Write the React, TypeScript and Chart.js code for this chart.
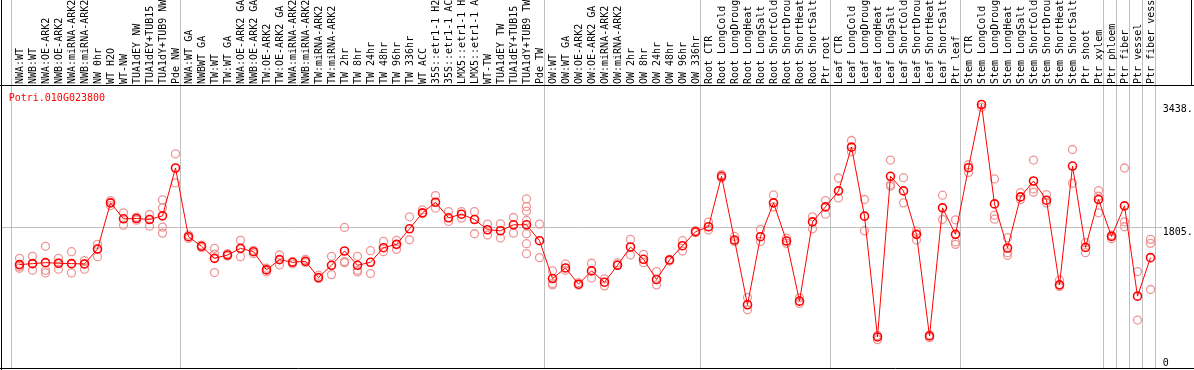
import React, { useEffect, useRef } from "react";
import { Chart, registerables } from "chart.js";

Chart.register(...registerables);

const title = "Potri.010G023800";

const categories = [
  "NWA:WT", "NWB:WT", "NWA:OE-ARK2", "NWB:OE-ARK2", "NWA:miRNA-ARK2", "NWB:miRNA-ARK2",
  "NW 0hr", "WT H2O", "WT-NW", "TUA1dEY NW", "TUA1dEY+TUB15 NW", "TUA1dY+TUB9 NW", "Pde NW",
  "NWA:WT GA", "NWBWT GA", "TW:WT", "TW:WT GA", "NWA:OE-ARK2 GA", "NWB:OE-ARK2 GA",
  "TW:OE-ARK2", "TW:OE-ARK2 GA", "NWA:miRNA-ARK2 GA", "NWB:miRNA-ARK2 GA", "TW:miRNA-ARK2",
  "TW:miRNA-ARK2 GA", "TW 2hr", "TW 8hr", "TW 24hr", "TW 48hr", "TW 96hr", "TW 336hr",
  "WT ACC", "35S::etr1-1 H2O", "35S::etr1-1 ACC", "LMX5::etr1-1 H2O", "LMX5::etr1-1 ACC",
  "WT-TW", "TUA1dEY TW", "TUA1dEY+TUB15 TW", "TUA1dY+TUB9 TW", "Pde TW",
  "OW:WT", "OW:WT GA", "OW:OE-ARK2", "OW:OE-ARK2 GA", "OW:miRNA-ARK2", "OW:miRNA-ARK2 GA",
  "OW 2hr", "OW 8hr", "OW 24hr", "OW 48hr", "OW 96hr", "OW 336hr",
  "Root CTR", "Root LongCold", "Root LongDrought", "Root LongHeat", "Root LongSalt",
  "Root ShortCold", "Root ShortDrought", "Root ShortHeat", "Root ShortSalt", "Ptr root",
  "Leaf CTR", "Leaf LongCold", "Leaf LongDrought", "Leaf LongHeat", "Leaf LongSalt",
  "Leaf ShortCold", "Leaf ShortDrought", "Leaf ShortHeat", "Leaf ShortSalt", "Ptr leaf",
  "Stem CTR", "Stem LongCold", "Stem LongDrought", "Stem LongHeat", "Stem LongSalt",
  "Stem ShortCold", "Stem ShortDrought", "Stem ShortHeat", "Stem ShortSalt", "Ptr shoot",
  "Ptr xylem", "Ptr phloem", "Ptr fiber", "Ptr vessel", "Ptr fiber vessel",
];

const means = [
  1320, 1333, 1346, 1338, 1333, 1329, 1526, 2137, 1926, 1930, 1917, 1965, 2598,
  1689, 1562, 1403, 1447, 1535, 1491, 1250, 1386, 1351, 1364, 1149, 1311, 1500,
  1311, 1351, 1544, 1588, 1794, 2005, 2145, 1939, 1987, 1917, 1781, 1768, 1847,
  1847, 1636,
  1136, 1276, 1061, 1237, 1087, 1311, 1553, 1390, 1123, 1382, 1570, 1755,
  1821, 2488, 1645, 789, 1689, 2137, 1632, 837, 1886, 2084,
  2295, 2874, 1961, 363, 2488, 2295, 1720, 376, 2071, 1720,
  2602, 3438, 2123, 1540, 2216, 2426, 2172, 1052, 2624, 1548, 2181,
  1693, 2097, 903, 1412,
];

const replicates = [
  [1403, 1294, 1272], [1430, 1333, 1245], [1562, 1245, 1210], [1403, 1338, 1259],
  [1491, 1333, 1210], [1373, 1329, 1259], [1588, 1526, 1425], [2167, 2101],
  [2005, 1842], [1948, 1908], [1983, 1829], [2176, 2071, 1816, 1737], [2786, 2400],
  [1711, 1667], [1579, 1544], [1535, 1460, 1215], [1465, 1434], [1641, 1425],
  [1509, 1465], [1272, 1223], [1447, 1316], [1360, 1329], [1390, 1347], [1180, 1136],
  [1430, 1188], [1812, 1360, 1346], [1430, 1245, 1223], [1504, 1202], [1627, 1491],
  [1641, 1522], [1952, 1649], [2044, 1996], [2233, 2066], [2022, 1891], [2022, 1935],
  [2022, 1728], [1856, 1711], [1860, 1671], [1943, 1737],
  [2189, 2088, 2027, 1904, 1728, 1597, 1465], [1856, 1412],
  [1237, 1070, 1052], [1329, 1245], [1083, 1048], [1338, 1144], [1131, 1039],
  [1343, 1316], [1654, 1447], [1456, 1346], [1228, 1052], [1390, 1368], [1636, 1500],
  [1768, 1742],
  [1882, 1777], [2510, 2466], [1693, 1623], [885, 723], [1785, 1627], [2242, 2084],
  [1671, 1601], [881, 806], [1952, 1794], [2167, 1987],
  [2466, 2202], [2962, 2813], [2181, 1768], [381, 328], [2703, 2378, 2356],
  [2470, 2137], [1763, 1645], [389, 354], [2238, 1917], [1913, 1619, 1588],
  [2641, 2540], [3519, 3401], [2453, 1974, 1921], [1676, 1478, 1443], [2273, 2181],
  [2703, 2321, 2277], [2246, 2137], [1114, 1030], [2843, 2396], [1610, 1478],
  [2299, 2224, 2005],
  [1711, 1662], [2598, 1886, 1821], [1228, 587], [1654, 1601, 991],
];

const groupBoundaries = [0, 13, 41, 53, 63, 73, 84, 85, 86, 87, 88];
const yTickValues = [0, 1805, 3438];
const yTickLabels = ["0", "1805.", "3438."];
const referenceLineValue = 1805;

const FONT = '10px "DejaVu Sans Mono", "Liberation Mono", monospace';

const framePlugin = {
  id: "efpFrame",
  beforeDatasetsDraw(chart: any) {
    const ctx = chart.ctx as CanvasRenderingContext2D;
    const xs = chart.scales.x;
    const ys = chart.scales.y;
    const W = chart.width;
    ctx.save();
    ctx.lineWidth = 1;
    ctx.strokeStyle = "#c0c0c0";
    for (const k of groupBoundaries) {
      const px = Math.floor(xs.getPixelForValue(k - 0.62)) + 0.5;
      ctx.beginPath();
      ctx.moveTo(px, 0);
      ctx.lineTo(px, 369);
      ctx.stroke();
    }
    const hy = Math.floor(ys.getPixelForValue(referenceLineValue)) + 0.5;
    ctx.beginPath();
    ctx.moveTo(1, hy);
    ctx.lineTo(1162, hy);
    ctx.stroke();

    ctx.strokeStyle = "#000";
    ctx.beginPath();
    ctx.moveTo(1.5, 0);
    ctx.lineTo(1.5, 370);
    ctx.moveTo(0, 85.5);
    ctx.lineTo(W, 85.5);
    ctx.moveTo(0, 368.5);
    ctx.lineTo(W, 368.5);
    ctx.moveTo(1191.5, 0);
    ctx.lineTo(1191.5, 86);
    ctx.stroke();

    ctx.font = FONT;
    ctx.fillStyle = "#000";
    ctx.textAlign = "left";
    ctx.textBaseline = "alphabetic";
    categories.forEach((c, i) => {
      const px = xs.getPixelForValue(i);
      ctx.save();
      ctx.translate(px + 3.8, 84);
      ctx.rotate(-Math.PI / 2);
      ctx.fillText(c, 0, 0);
      ctx.restore();
    });

    yTickValues.forEach((v, j) => {
      const py = ys.getPixelForValue(v);
      ctx.fillText(yTickLabels[j], 1162.7, Math.min(py + 7, 366));
    });

    ctx.fillStyle = "#ff0000";
    ctx.fillText(title, 8.7, 101);
    ctx.restore();
  },
};

export default function App() {
  const ref = useRef<HTMLCanvasElement | null>(null);

  useEffect(() => {
    if (!ref.current) return;
    const meanPoints = means.map((v, i) => ({ x: i, y: v }));
    const repPoints: { x: number; y: number }[] = [];
    replicates.forEach((arr, i) => arr.forEach((v) => repPoints.push({ x: i, y: v })));

    const chart = new Chart(ref.current, {
      type: "scatter",
      data: {
        datasets: [
          {
            label: "mean",
            data: meanPoints,
            showLine: true,
            borderColor: "#ff0000",
            borderWidth: 1,
            pointRadius: 4,
            pointHoverRadius: 4,
            pointBorderWidth: 1.6,
            pointBorderColor: "#ff0000",
            pointBackgroundColor: "rgba(0,0,0,0)",
            clip: false,
          } as any,
          {
            label: "replicates",
            data: repPoints,
            showLine: false,
            pointRadius: 4,
            pointHoverRadius: 4,
            pointBorderWidth: 1.3,
            pointBorderColor: "rgba(236,140,140,0.9)",
            pointBackgroundColor: "rgba(0,0,0,0)",
            clip: false,
          } as any,
        ],
      },
      options: {
        animation: false,
        responsive: false,
        events: [],
        layout: { padding: { left: 13, right: 37, top: 104.5, bottom: 4.44 } },
        scales: {
          x: { type: "linear", min: -0.5, max: 87.5, display: false },
          y: { type: "linear", min: 0, max: 3438, display: false },
        },
        plugins: {
          legend: { display: false },
          tooltip: { enabled: false },
        },
      },
      plugins: [framePlugin],
    });
    return () => chart.destroy();
  }, []);

  return (
    <div style={{ position: "absolute", left: 0, top: 0, width: 1194, height: 370, background: "#fff" }}>
      <canvas ref={ref} width={1194} height={370} style={{ display: "block" }} />
    </div>
  );
}
